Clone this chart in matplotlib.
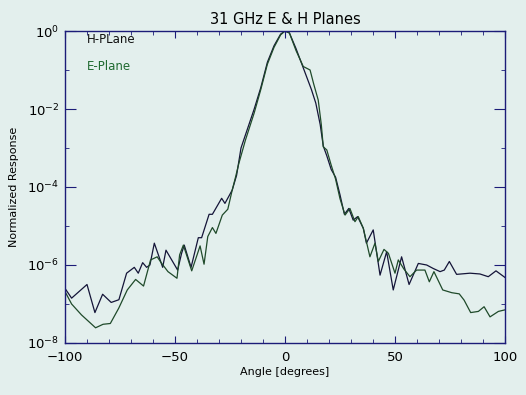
import numpy as np
import matplotlib.pyplot as plt
from matplotlib.ticker import FixedLocator, NullFormatter

plt.rcParams['font.family'] = 'DejaVu Sans'
plt.rcParams['font.size'] = 9

# =========================================================
# Beam pattern (angle in degrees, log10 of response)
# =========================================================
h_angle = [-100, -97, -90, -86.4, -82.9, -79, -75.5, -72, -68.5, -66.7, -64.7,
           -62.9, -61.4, -59.4, -55.6, -54.1, -48.8, -47, -45.8, -42.7, -39.4,
           -37.9, -34.5, -33, -28.8, -27.3, -24, -22, -20, -17, -14, -11, -8,
           -5, -2, 0, 2, 5, 8, 10, 12, 14, 16, 17.4, 19, 21, 23, 25, 27, 29,
           31, 33, 35.6, 37, 40.1, 43.2, 46.2, 49.2, 53, 56.4, 60.6, 64.4,
           67.4, 70.5, 72.4, 74.7, 78, 84.1, 88.6, 92.4, 95.9, 100]
h_log = [-6.6, -6.85, -6.5, -7.22, -6.75, -6.96, -6.89, -6.21, -6.06, -6.21,
         -5.94, -6.06, -6.0, -5.44, -6.06, -5.62, -6.13, -5.70, -5.49, -6.06,
         -5.30, -5.30, -4.70, -4.70, -4.29, -4.42, -4.08, -3.7, -3.0, -2.5,
         -2.0, -1.45, -0.8, -0.38, -0.08, 0.0, -0.05, -0.45, -0.9, -1.2, -1.5,
         -1.85, -2.4, -2.95, -3.2, -3.55, -3.75, -4.2, -4.7, -4.55, -4.85,
         -4.76, -5.06, -5.44, -5.10, -6.26, -5.66, -6.64, -5.79, -6.5, -5.96,
         -6.0, -6.09, -6.17, -6.13, -5.91, -6.24, -6.21, -6.23, -6.30, -6.15,
         -6.32]

e_angle = [-100, -97, -92.5, -86.1, -82.7, -79.4, -75.6, -71.7, -67.9, -64.3,
           -61.1, -58.1, -56.3, -53.2, -49.1, -47.9, -46.2, -42.4, -38.6, -36.8,
           -35.1, -33, -31.4, -28.5, -26, -24, -22.5, -21, -18, -14, -11, -8,
           -5, -2, 0, 2, 5, 8.3, 11.4, 13, 15.1, 16.5, 17.4, 19, 21, 23, 25,
           27.3, 29.5, 31.8, 33.3, 35.6, 38.6, 40.9, 42.4, 45, 47, 50, 51.5, 54,
           56.8, 59.8, 63.6, 65.6, 67.7, 71.7, 75.8, 79.2, 81.4, 84.4, 87.9,
           90.5, 93.2, 97, 100]
e_log = [-6.68, -7.0, -7.28, -7.61, -7.52, -7.50, -7.11, -6.64, -6.37, -6.54,
         -5.87, -5.79, -5.94, -6.17, -6.34, -5.74, -5.49, -6.15, -5.51, -5.98,
         -5.27, -5.04, -5.19, -4.72, -4.57, -4.08, -3.75, -3.4, -2.8, -2.1,
         -1.5, -0.85, -0.42, -0.1, 0.0, -0.05, -0.5, -0.91, -1.0, -1.35,
         -1.77, -2.4, -2.97, -3.05, -3.44, -3.8, -4.3, -4.72, -4.55, -4.89,
         -4.76, -5.06, -5.79, -5.44, -5.91, -5.6, -5.70, -6.21, -5.87, -6.1,
         -6.30, -6.13, -6.13, -6.43, -6.17, -6.64, -6.71, -6.74, -6.90, -7.22,
         -7.19, -7.07, -7.33, -7.19, -7.15]

y_ticks = [1e0, 1e-2, 1e-4, 1e-6, 1e-8]
y_labels = [r'$\mathregular{10^{0}}$', r'$\mathregular{10^{-2}}$',
            r'$\mathregular{10^{-4}}$', r'$\mathregular{10^{-6}}$',
            r'$\mathregular{10^{-8}}$']
x_ticks = [-100, -50, 0, 50, 100]

bg = '#e3efed'
axis_col = '#1c1c78'
h_col = '#141438'
e_col = '#1f4a2a'

fig = plt.figure(figsize=(5.26, 3.95), dpi=100, facecolor=bg)
ax = fig.add_axes([65 / 526, 52 / 395, 440 / 526, 312 / 395])
ax.set_facecolor(bg)

ax.plot(h_angle, 10 ** np.array(h_log), color=h_col, lw=0.9)
ax.plot(e_angle, 10 ** np.array(e_log), color=e_col, lw=0.9)

ax.set_yscale('log')
ax.set_xlim(-100, 100)
ax.set_ylim(1e-8, 1e0)

ax.yaxis.set_major_locator(FixedLocator(y_ticks))
ax.set_yticklabels(y_labels)
ax.yaxis.set_minor_locator(FixedLocator([1e-1, 1e-3, 1e-5, 1e-7]))
ax.yaxis.set_minor_formatter(NullFormatter())
ax.set_xticks(x_ticks)
ax.set_xticks(np.arange(-100, 101, 10), minor=True)

for s in ax.spines.values():
    s.set_color(axis_col)
    s.set_linewidth(1.0)
ax.tick_params(which='both', direction='in', top=True, right=True,
               color=axis_col, labelcolor='black', labelsize=9.5)
ax.tick_params(axis='y', which='major', length=8, pad=4)
ax.tick_params(axis='x', which='major', length=5, pad=6)
ax.tick_params(which='minor', length=3)

ax.set_title('31 GHz E & H Planes', fontsize=10.5, pad=5)
ax.set_xlabel('Angle [degrees]', fontsize=8, labelpad=2)
ax.set_ylabel('Normalized Response', fontsize=8, labelpad=6)

ax.text(0.05, 0.974, 'H-PLane', transform=ax.transAxes, fontsize=8.5,
        color='#101010', va='center')
ax.text(0.05, 0.885, 'E-Plane', transform=ax.transAxes, fontsize=8.5,
        color='#1f6a30', va='center')

fig.savefig('out.png', dpi=100, facecolor=bg)
